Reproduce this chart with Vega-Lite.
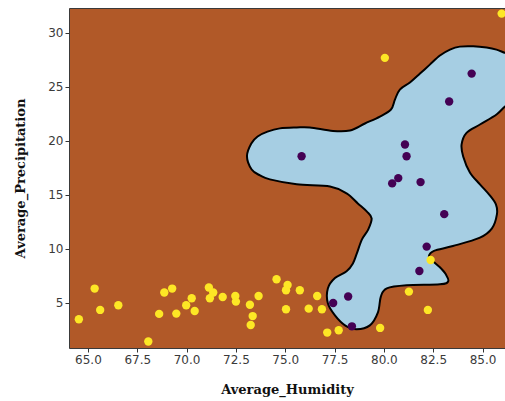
{
  "$schema": "https://vega.github.io/schema/vega-lite/v6.json",
  "autosize": {"type": "none"},
  "padding": {"left": 69, "top": 8, "right": 0, "bottom": 53},
  "width": 436,
  "height": 340,
  "config": {
    "view": {"fill": "#b15928", "stroke": "#3a3a3a", "strokeWidth": 1},
    "axis": {
      "grid": false,
      "domain": false,
      "labelFont": "DejaVu Sans",
      "labelFontSize": 12,
      "labelColor": "#3a3a3a",
      "tickColor": "#333333",
      "tickSize": 4,
      "titleFont": "DejaVu Serif",
      "titleFontWeight": "bold",
      "titleFontSize": 13,
      "titleColor": "#111111"
    }
  },
  "datasets": {
    "boundary": [
      {"i": 1, "x": 86.39, "y": 28.08},
      {"i": 2, "x": 86.14, "y": 28.15},
      {"i": 3, "x": 85.71, "y": 28.45},
      {"i": 4, "x": 85.21, "y": 28.64},
      {"i": 5, "x": 84.53, "y": 28.76},
      {"i": 6, "x": 83.85, "y": 28.73},
      {"i": 7, "x": 83.35, "y": 28.45},
      {"i": 8, "x": 82.84, "y": 27.9},
      {"i": 9, "x": 82.33, "y": 27.06},
      {"i": 10, "x": 81.83, "y": 26.23},
      {"i": 11, "x": 81.32, "y": 25.4},
      {"i": 12, "x": 80.81, "y": 24.75},
      {"i": 13, "x": 80.56, "y": 23.82},
      {"i": 14, "x": 80.36, "y": 22.9},
      {"i": 15, "x": 79.8, "y": 22.25},
      {"i": 16, "x": 79.04, "y": 21.6},
      {"i": 17, "x": 78.28, "y": 20.95},
      {"i": 18, "x": 77.42, "y": 20.91},
      {"i": 19, "x": 76.25, "y": 21.23},
      {"i": 20, "x": 75.58, "y": 21.23},
      {"i": 21, "x": 74.73, "y": 21.15},
      {"i": 22, "x": 74.1, "y": 20.85},
      {"i": 23, "x": 73.6, "y": 20.4},
      {"i": 24, "x": 73.28, "y": 19.75},
      {"i": 25, "x": 73.06, "y": 18.57},
      {"i": 26, "x": 73.3, "y": 17.34},
      {"i": 27, "x": 73.72, "y": 16.79},
      {"i": 28, "x": 74.22, "y": 16.42},
      {"i": 29, "x": 75.58, "y": 15.96},
      {"i": 30, "x": 77.27, "y": 15.77},
      {"i": 31, "x": 78.11, "y": 15.12},
      {"i": 32, "x": 78.68, "y": 14.19},
      {"i": 33, "x": 79.13, "y": 13.45},
      {"i": 34, "x": 79.38, "y": 12.81},
      {"i": 35, "x": 79.21, "y": 11.79},
      {"i": 36, "x": 78.89, "y": 10.86},
      {"i": 37, "x": 78.63, "y": 9.56},
      {"i": 38, "x": 78.43, "y": 8.63},
      {"i": 39, "x": 78.11, "y": 7.9},
      {"i": 40, "x": 77.52, "y": 7.27},
      {"i": 41, "x": 77.16, "y": 6.31},
      {"i": 42, "x": 77.16, "y": 4.93},
      {"i": 43, "x": 77.52, "y": 3.81},
      {"i": 44, "x": 78.03, "y": 2.89},
      {"i": 45, "x": 78.62, "y": 2.53},
      {"i": 46, "x": 79.29, "y": 2.89},
      {"i": 47, "x": 79.7, "y": 4.1},
      {"i": 48, "x": 79.85, "y": 5.58},
      {"i": 49, "x": 80.15, "y": 6.32},
      {"i": 50, "x": 81.15, "y": 6.6},
      {"i": 51, "x": 82.84, "y": 6.69},
      {"i": 52, "x": 83.26, "y": 6.97},
      {"i": 53, "x": 83.14, "y": 7.62},
      {"i": 54, "x": 82.84, "y": 8.27},
      {"i": 55, "x": 82.44, "y": 8.92},
      {"i": 56, "x": 82.28, "y": 9.31},
      {"i": 57, "x": 82.54, "y": 9.8},
      {"i": 58, "x": 83.5, "y": 10.24},
      {"i": 59, "x": 84.87, "y": 11.02},
      {"i": 60, "x": 85.48, "y": 11.88},
      {"i": 61, "x": 85.73, "y": 13.18},
      {"i": 62, "x": 85.68, "y": 14.1},
      {"i": 63, "x": 85.37, "y": 14.94},
      {"i": 64, "x": 84.87, "y": 15.96},
      {"i": 65, "x": 84.36, "y": 17.07},
      {"i": 66, "x": 84.02, "y": 18.55},
      {"i": 67, "x": 83.94, "y": 19.66},
      {"i": 68, "x": 84.19, "y": 20.74},
      {"i": 69, "x": 84.87, "y": 21.51},
      {"i": 70, "x": 85.71, "y": 22.44},
      {"i": 71, "x": 86.14, "y": 23.18},
      {"i": 72, "x": 86.39, "y": 23.36}
    ],
    "points": [
      {"h": 64.54, "p": 3.45, "c": "high"},
      {"h": 65.34, "p": 6.3, "c": "high"},
      {"h": 65.62, "p": 4.32, "c": "high"},
      {"h": 66.54, "p": 4.75, "c": "high"},
      {"h": 68.06, "p": 1.39, "c": "high"},
      {"h": 68.61, "p": 3.95, "c": "high"},
      {"h": 68.87, "p": 5.93, "c": "high"},
      {"h": 69.27, "p": 6.3, "c": "high"},
      {"h": 69.48, "p": 3.98, "c": "high"},
      {"h": 69.98, "p": 4.75, "c": "high"},
      {"h": 70.26, "p": 5.4, "c": "high"},
      {"h": 70.41, "p": 4.22, "c": "high"},
      {"h": 71.13, "p": 6.4, "c": "high"},
      {"h": 71.35, "p": 5.93, "c": "high"},
      {"h": 71.18, "p": 5.4, "c": "high"},
      {"h": 71.83, "p": 5.52, "c": "high"},
      {"h": 72.47, "p": 5.61, "c": "high"},
      {"h": 72.5, "p": 5.09, "c": "high"},
      {"h": 73.21, "p": 4.8, "c": "high"},
      {"h": 73.35, "p": 3.75, "c": "high"},
      {"h": 73.25, "p": 2.92, "c": "high"},
      {"h": 73.65, "p": 5.61, "c": "high"},
      {"h": 74.56, "p": 7.16, "c": "high"},
      {"h": 75.12, "p": 6.63, "c": "high"},
      {"h": 75.04, "p": 6.14, "c": "high"},
      {"h": 75.04, "p": 4.38, "c": "high"},
      {"h": 75.74, "p": 6.14, "c": "high"},
      {"h": 76.19, "p": 4.44, "c": "high"},
      {"h": 76.62, "p": 5.61, "c": "high"},
      {"h": 76.86, "p": 4.38, "c": "high"},
      {"h": 77.13, "p": 2.22, "c": "high"},
      {"h": 77.71, "p": 2.44, "c": "high"},
      {"h": 79.81, "p": 2.65, "c": "high"},
      {"h": 81.27, "p": 6.02, "c": "high"},
      {"h": 82.23, "p": 4.32, "c": "high"},
      {"h": 82.37, "p": 8.95, "c": "high"},
      {"h": 80.05, "p": 27.69, "c": "high"},
      {"h": 85.97, "p": 31.79, "c": "high"},
      {"h": 77.43, "p": 4.96, "c": "low"},
      {"h": 78.19, "p": 5.56, "c": "low"},
      {"h": 78.38, "p": 2.8, "c": "low"},
      {"h": 81.8, "p": 7.93, "c": "low"},
      {"h": 82.17, "p": 10.19, "c": "low"},
      {"h": 83.06, "p": 13.2, "c": "low"},
      {"h": 80.42, "p": 16.05, "c": "low"},
      {"h": 80.73, "p": 16.54, "c": "low"},
      {"h": 81.86, "p": 16.17, "c": "low"},
      {"h": 81.07, "p": 19.66, "c": "low"},
      {"h": 81.15, "p": 18.57, "c": "low"},
      {"h": 75.83, "p": 18.57, "c": "low"},
      {"h": 83.31, "p": 23.64, "c": "low"},
      {"h": 84.45, "p": 26.23, "c": "low"}
    ]
  },
  "layer": [
    {
      "data": {"name": "boundary"},
      "mark": {"type": "line", "fill": "#a6cee3", "stroke": "#000000", "strokeWidth": 2, "interpolate": "cardinal-closed", "clip": true},
      "encoding": {
        "x": {"field": "x", "type": "quantitative", "scale": {"domain": [64.04, 86.14], "nice": false, "zero": false},
              "axis": {"title": "Average_Humidity", "values": [65, 67.5, 70, 72.5, 75, 77.5, 80, 82.5, 85], "format": ".1f", "titlePadding": 18}},
        "y": {"field": "y", "type": "quantitative", "scale": {"domain": [0.79, 32.31], "nice": false, "zero": false},
              "axis": {"title": "Average_Precipitation", "values": [5, 10, 15, 20, 25, 30], "format": "d", "titlePadding": 20}},
        "order": {"field": "i", "type": "quantitative"}
      }
    },
    {
      "data": {"name": "points"},
      "mark": {"type": "circle", "size": 70, "opacity": 1, "clip": true},
      "encoding": {
        "x": {"field": "h", "type": "quantitative"},
        "y": {"field": "p", "type": "quantitative"},
        "color": {"field": "c", "type": "nominal", "scale": {"domain": ["low", "high"], "range": ["#440154", "#fde725"]}, "legend": null}
      }
    }
  ]
}
